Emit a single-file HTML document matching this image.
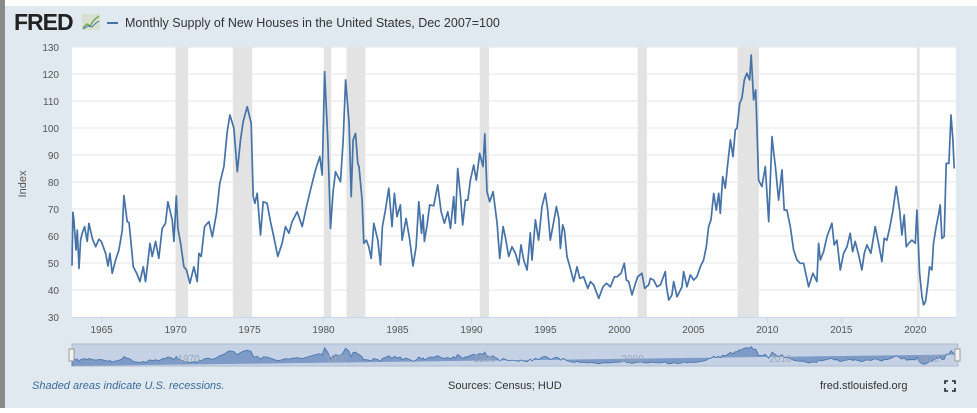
<!DOCTYPE html>
<html><head><meta charset="utf-8">
<style>
html,body{margin:0;padding:0;width:977px;height:408px;overflow:hidden;background:#fff;font-family:"Liberation Sans",sans-serif;}
#wrap{position:absolute;left:0;top:0;width:977px;height:408px;}
</style></head>
<body>
<div id="wrap">
<svg id="chart" width="977" height="408" xmlns="http://www.w3.org/2000/svg">
  <rect x="0" y="0" width="977" height="408" fill="#ffffff"/>
  <rect x="0" y="0" width="5" height="408" fill="#8a8a8a"/>
  <rect x="5" y="6" width="972" height="402" fill="#e1e9f0"/>
  <text x="14" y="30" font-size="23" font-weight="bold" fill="#222" letter-spacing="-1">FRED</text>
  <g>
    <rect x="82" y="14" width="18" height="16" fill="#d8e0d0"/>
    <polyline points="83,28 87,24 90,26 94,20 99,16" fill="none" stroke="#6aa04a" stroke-width="1.3"/>
    <polyline points="83,29 88,26 92,27 96,23 99,21" fill="none" stroke="#4572a7" stroke-width="1"/>
  </g>
  <line x1="107" y1="23" x2="118" y2="23" stroke="#4572a7" stroke-width="2"/>
  <text x="125" y="27" font-size="12.5" fill="#333">Monthly Supply of New Houses in the United States, Dec 2007=100</text>
  <rect x="72" y="47" width="884" height="270" fill="#ffffff"/>
  <g id="rec"></g><g id="grid"></g><g id="yt"></g><g id="xt"></g>
  <path id="line" fill="none" stroke="#4572a7" stroke-width="1.7" stroke-linejoin="round"/>
  <text transform="translate(26,184) rotate(-90)" font-size="11" fill="#555" text-anchor="middle">Index</text>
  <g>
    <rect x="72" y="344" width="886" height="22" fill="#c5d2e6" stroke="#b0bccc" stroke-width="1"/>
    <path id="navline" fill="#7e9bc7" stroke="#4572a7" stroke-width="0.8"/>
    <g id="navlab"></g>
    <rect x="69" y="349" width="5" height="12" fill="#f2f2f2" stroke="#999"/>
    <rect x="955" y="349" width="5" height="12" fill="#f2f2f2" stroke="#999"/>
  </g>
  <text x="32" y="389" font-size="11" font-style="italic" fill="#3b6a9a">Shaded areas indicate U.S. recessions.</text>
  <text x="448" y="389" font-size="11" fill="#333">Sources: Census; HUD</text>
  <text x="820" y="389" font-size="11" fill="#333">fred.stlouisfed.org</text>
  <g stroke="#222" stroke-width="1.6" fill="none">
    <path d="M945,384 v-3 h3 M952,381 h3 v3 M955,388 v3 h-3 M948,391 h-3 v-3"/>
  </g>
</svg>
</div>
<script>
const dates=[1963.0,1963.06,1963.13,1963.27,1963.36,1963.47,1963.58,1963.69,1963.85,1964.03,1964.14,1964.37,1964.6,1964.82,1964.98,1965.27,1965.43,1965.56,1965.72,1965.95,1966.17,1966.4,1966.51,1966.73,1966.85,1966.96,1967.14,1967.37,1967.59,1967.82,1967.97,1968.13,1968.27,1968.42,1968.65,1968.87,1969.1,1969.32,1969.48,1969.77,1969.89,1970.05,1970.16,1970.34,1970.56,1970.74,1970.97,1971.24,1971.46,1971.58,1971.73,1971.96,1972.25,1972.48,1972.77,1972.99,1973.27,1973.49,1973.67,1973.94,1974.17,1974.39,1974.57,1974.84,1975.11,1975.25,1975.36,1975.52,1975.74,1975.92,1976.19,1976.42,1976.64,1976.91,1977.2,1977.43,1977.66,1977.88,1978.22,1978.56,1978.85,1979.12,1979.46,1979.75,1979.91,1980.07,1980.29,1980.47,1980.65,1980.81,1981.15,1981.33,1981.49,1981.73,1981.87,1982.0,1982.16,1982.32,1982.4,1982.61,1982.72,1982.9,1983.06,1983.22,1983.4,1983.67,1983.85,1983.98,1984.18,1984.41,1984.63,1984.79,1984.97,1985.2,1985.31,1985.58,1985.81,1986.05,1986.26,1986.44,1986.62,1986.73,1986.82,1987.0,1987.18,1987.45,1987.72,1987.95,1988.17,1988.4,1988.58,1988.8,1988.91,1989.07,1989.25,1989.41,1989.59,1989.75,1989.93,1990.15,1990.33,1990.56,1990.78,1990.9,1991.05,1991.23,1991.46,1991.73,1991.91,1992.14,1992.29,1992.52,1992.74,1992.97,1993.19,1993.35,1993.53,1993.76,1993.98,1994.09,1994.32,1994.54,1994.77,1994.99,1995.15,1995.33,1995.56,1995.74,1995.9,1996.01,1996.17,1996.28,1996.46,1996.68,1996.91,1997.13,1997.32,1997.58,1997.86,1998.04,1998.26,1998.6,1998.89,1999.12,1999.39,1999.66,1999.84,2000.11,2000.33,2000.47,2000.63,2000.85,2001.01,2001.23,2001.52,2001.71,2001.98,2002.09,2002.31,2002.54,2002.77,2003.1,2003.17,2003.33,2003.55,2003.67,2003.89,2004.23,2004.34,2004.57,2004.79,2005.02,2005.24,2005.47,2005.69,2005.87,2006.03,2006.19,2006.37,2006.55,2006.71,2006.82,2006.98,2007.16,2007.31,2007.5,2007.68,2007.83,2007.95,2008.13,2008.28,2008.44,2008.62,2008.8,2008.91,2009.07,2009.21,2009.3,2009.41,2009.63,2009.86,2010.09,2010.31,2010.38,2010.54,2010.76,2010.99,2011.14,2011.32,2011.55,2011.77,2012.0,2012.22,2012.45,2012.79,2013.08,2013.35,2013.46,2013.58,2013.8,2014.03,2014.36,2014.52,2014.7,2014.93,2015.15,2015.38,2015.6,2015.76,2015.94,2016.17,2016.39,2016.55,2016.73,2017.0,2017.29,2017.58,2017.74,2017.9,2018.08,2018.26,2018.49,2018.71,2018.94,2019.09,2019.25,2019.39,2019.55,2019.77,2020.0,2020.11,2020.29,2020.45,2020.56,2020.69,2020.85,2020.96,2021.12,2021.23,2021.41,2021.57,2021.68,2021.8,2021.95,2022.09,2022.27,2022.41,2022.54,2022.63,2022.72];
const values=[49,68.8,66,54.8,62.2,48,58.5,61,63.5,58,64.7,59.1,56,58.8,58,53.6,48.9,53.6,46.2,51.1,54.8,62.2,75,65.3,65,59.1,48.6,46.2,43.1,48.6,43.1,50.5,57.3,52.4,58,51.7,62.8,64.7,72.7,66,58,74.8,62.8,57.3,48.6,47.4,42.5,48.6,43.1,53.6,52.4,63.5,65.3,59.7,68.4,79.5,85.7,98.6,104.8,99.9,83.8,95.6,102.4,107.9,101.7,74.6,72.1,75.8,60.4,72.7,72.1,65.3,59.7,52.4,57.3,63.5,61,65.3,69,63.5,70.9,77.1,84.5,89.4,82.6,120.9,95.6,62.8,76.4,83.8,80.1,95.6,117.8,101.7,74.6,95.6,98,86.9,85.7,73.3,57.3,58.5,56,51.7,64.7,58.5,49.3,63.5,69.6,77.7,63.5,75.8,67.2,71.5,58.5,66.5,59.1,48.9,56,72.7,61,67.8,58,64.1,71.5,71.2,78.9,69,64.7,69,62.8,74.6,64.7,85,75.2,64.1,73.3,73.3,80.7,86.3,80.7,90.6,85.7,97.8,76.4,72.7,76.4,64.7,51.7,63.5,59.7,52.4,56,53.6,49.3,56.7,51.1,47.4,61.2,51.1,66,58.5,70.9,75.8,69.6,58.5,65.3,70.9,66.5,55.4,64.1,62.2,52.4,48,43.1,48.6,44.3,44.9,40.6,43.1,41.9,36.9,41.2,42.5,41.2,44.9,44.9,46.2,49.9,43.7,43.1,38.2,41.2,44.9,46.2,40.6,41.9,44.3,43.7,41.2,41.9,46.8,41.9,36.3,38.2,43.1,37.5,41.2,46.8,41.2,45.6,43.7,44.9,48.6,51.1,56,63.5,66,75.8,69.6,75.8,68.4,82,77.7,86.3,95.6,89.4,99.3,99.9,109.1,111,117.8,120.3,117.8,127,110.4,114.1,99.3,80.7,78.3,85.7,65.3,96.8,93.1,85.7,73.3,84.5,69.6,69.6,63.5,54.8,51.1,49.9,49.9,41.2,46.2,43.1,57.3,51.1,54.2,59.8,64.7,56.7,58.5,47.4,53.6,56,61,54.2,58,53,47.4,53.6,56.7,53.6,63.5,55.4,50.5,59.1,58.5,62.8,69.6,78.3,69.6,60.4,67.8,56,57.3,58.5,57.3,69.6,46.2,37.5,34.5,35.7,42.5,48.6,47.4,57.3,63.5,67.8,71.5,59.1,59.8,86.9,86.9,104.8,95.6,85];
const recStart=[1970.0,1973.87,1980.02,1981.55,1990.56,2001.23,2007.99,2020.11];
const recEnd=[1970.85,1975.18,1980.52,1982.83,1991.19,2001.86,2009.43,2020.29];
const yTicks=[30,40,50,60,70,80,90,100,110,120,130];
const xTicks=[1965,1970,1975,1980,1985,1990,1995,2000,2005,2010,2015,2020];
const navLabels=[1970,1980,1990,2000,2010,2020];

const NS="http://www.w3.org/2000/svg";
const X0=72,X1=956,Y0=47,Y1=317,T0=1963.0,T1=2022.75;
function xs(t){return X0+(t-T0)/(T1-T0)*(X1-X0);}
function ys(v){return Y1-(v-30)/100*(Y1-Y0);}
function mk(tag,attrs,parent){const e=document.createElementNS(NS,tag);for(const k in attrs)e.setAttribute(k,attrs[k]);parent.appendChild(e);return e;}
const rec=document.getElementById('rec');
recStart.forEach((s,i)=>{const r=mk('rect',{x:xs(s),y:Y0,width:xs(recEnd[i])-xs(s),height:Y1-Y0,fill:'#e3e3e3'},rec);

});
const grid=document.getElementById('grid'),yt=document.getElementById('yt');
yTicks.forEach(v=>{
 if(v>30){const l=mk('line',{x1:X0,x2:X1,y1:ys(v),y2:ys(v),stroke:'#e6e6e6','stroke-width':1},grid);
 
 }
 const t=mk('text',{x:59,y:ys(v)+4,'font-size':10,fill:'#555','text-anchor':'end'},yt);t.textContent=v;
 
 
});
const xt=document.getElementById('xt');
mk('line',{x1:X0,x2:X1,y1:Y1+0.5,y2:Y1+0.5,stroke:'#ccd6eb'},xt);
xTicks.forEach(y=>{
 mk('line',{x1:xs(y),x2:xs(y),y1:Y1,y2:Y1+6,stroke:'#ccd6eb'},xt);
 const t=mk('text',{x:xs(y),y:333,'font-size':10,fill:'#555','text-anchor':'middle'},xt);t.textContent=y;
 
 
});
let d='';dates.forEach((t,i)=>{d+=(i?'L':'M')+xs(t).toFixed(1)+','+ys(values[i]).toFixed(1);});
document.getElementById('line').setAttribute('d',d);
const NY0=345,NY1=366;
function nys(v){return NY1-(v-25)/110*(NY1-NY0);}
let nd='M'+xs(dates[0]).toFixed(1)+','+NY1;dates.forEach((t,i)=>{nd+='L'+xs(t).toFixed(1)+','+nys(values[i]).toFixed(1);});
nd+='L'+xs(dates[dates.length-1]).toFixed(1)+','+NY1+'Z';
document.getElementById('navline').setAttribute('d',nd);
const nl=document.getElementById('navlab');
navLabels.forEach(y=>{const t=mk('text',{x:xs(y)+2,y:362,'font-size':10,fill:'#9aa6b8'},nl);t.textContent=y;
 
 });
</script>
</body></html>
